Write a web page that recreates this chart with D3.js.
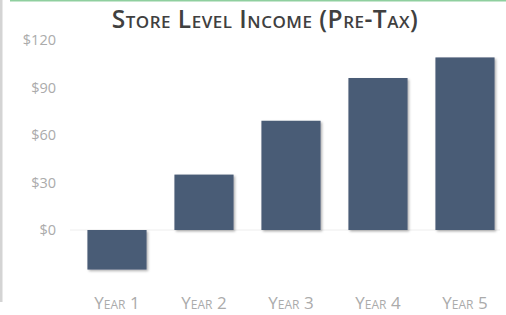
<!DOCTYPE html>
<html>
<head>
<meta charset="utf-8">
<script src="https://cdn.jsdelivr.net/npm/d3@7"></script>
<style>
  body { margin: 0; background: #fff; }
  svg { display: block; }
</style>
</head>
<body>
<div id="chart"></div>
<script>
// chart values
var years = ["Year 1", "Year 2", "Year 3", "Year 4", "Year 5"];
var income = [-25, 35, 69, 96, 109];
var tickValues = [0, 30, 60, 90, 120];

var width = 506, height = 315;

var svg = d3.select("#chart").append("svg")
    .attr("width", width)
    .attr("height", height);

var defs = svg.append("defs");
var shadow = defs.append("filter")
    .attr("id", "barShadow")
    .attr("x", "-10%").attr("y", "-10%")
    .attr("width", "130%").attr("height", "130%");
shadow.append("feDropShadow")
    .attr("dx", 1.5).attr("dy", 1.5)
    .attr("stdDeviation", 1.2)
    .attr("flood-color", "#000")
    .attr("flood-opacity", 0.3);

// frame bits: green top rule and grey left rule
svg.append("rect")
    .attr("x", 10).attr("y", 0)
    .attr("width", width - 10).attr("height", 1.5)
    .attr("fill", "#8fcf9f");
svg.append("rect")
    .attr("x", 0).attr("y", 0)
    .attr("width", 2.5).attr("height", 302)
    .attr("fill", "#d4d4d4");

var x = d3.scaleBand()
    .domain(years)
    .range([73.5, 508.5])
    .paddingInner(0.32)
    .paddingOuter(0.16);

var y = d3.scaleLinear()
    .domain([0, 120])
    .range([230, 40]);

// title
svg.append("text")
    .attr("x", 265)
    .attr("y", 28)
    .attr("text-anchor", "middle")
    .style("font-family", "'Open Sans', 'DejaVu Sans', sans-serif")
    .style("font-weight", "600")
    .style("font-variant", "small-caps")
    .style("font-size", "24.5px")
    .style("letter-spacing", "0.5px")
    .attr("fill", "#404040")
    .text("Store Level Income (Pre-Tax)");

// zero line
svg.append("line")
    .attr("x1", 70).attr("x2", 500)
    .attr("y1", y(0)).attr("y2", y(0))
    .attr("stroke", "#eeeeee")
    .attr("stroke-width", 1);

// y axis
var yAxis = svg.append("g")
    .attr("transform", "translate(56,0)")
    .call(d3.axisLeft(y).tickValues(tickValues).tickSize(0).tickPadding(0)
        .tickFormat(function(d) { return "$" + d; }));
yAxis.select(".domain").remove();
yAxis.selectAll("text")
    .style("font-family", "'Open Sans', sans-serif")
    .style("font-size", "14.5px")
    .attr("fill", "#ababab");

// bars
svg.append("g").selectAll("rect")
    .data(income)
    .join("rect")
    .attr("x", function(d, i) { return x(years[i]); })
    .attr("y", function(d) { return y(Math.max(0, d)); })
    .attr("width", x.bandwidth())
    .attr("height", function(d) { return Math.abs(y(d) - y(0)); })
    .attr("fill", "#4a5b76")
    .attr("filter", "url(#barShadow)");

// x axis labels
var xAxis = svg.append("g")
    .attr("transform", "translate(0,303)")
    .call(d3.axisBottom(x).tickSize(0).tickPadding(0));
xAxis.select(".domain").remove();
xAxis.selectAll("text")
    .attr("dy", "0.35em")
    .style("font-family", "'Open Sans', sans-serif")
    .style("font-variant", "small-caps")
    .style("font-size", "17px")
    .attr("fill", "#ababab");
</script>
</body>
</html>
